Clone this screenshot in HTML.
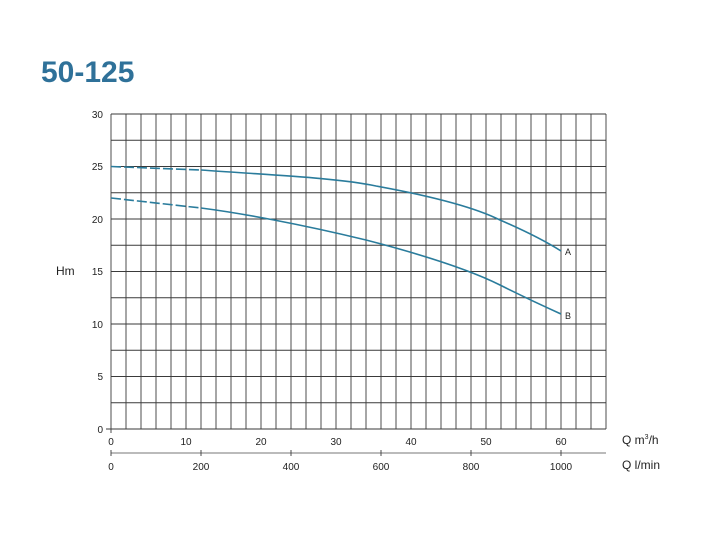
<!DOCTYPE html>
<html><head><meta charset="utf-8"><style>
body{margin:0;background:#fff;width:704px;height:528px;overflow:hidden;font-family:"Liberation Sans",sans-serif}
</style></head><body>
<svg width="704" height="528" xmlns="http://www.w3.org/2000/svg" font-family="Liberation Sans, sans-serif">
<text x="41" y="82" font-size="30" font-weight="bold" fill="#2f7199">50-125</text>
<g stroke="#333" stroke-width="1">
<path id="v" d=""/>
</g>
<g id="grid" stroke="#3a3a3a" stroke-width="0.9" fill="none">
<script>
</script>
</g>
<g stroke="#3a3a3a" stroke-width="0.9">
<line x1="111" y1="114" x2="606" y2="114"/><line x1="111" y1="140.25" x2="606" y2="140.25"/><line x1="111" y1="166.5" x2="606" y2="166.5"/><line x1="111" y1="192.75" x2="606" y2="192.75"/><line x1="111" y1="219" x2="606" y2="219"/><line x1="111" y1="245.25" x2="606" y2="245.25"/><line x1="111" y1="271.5" x2="606" y2="271.5"/><line x1="111" y1="297.75" x2="606" y2="297.75"/><line x1="111" y1="324" x2="606" y2="324"/><line x1="111" y1="350.25" x2="606" y2="350.25"/><line x1="111" y1="376.5" x2="606" y2="376.5"/><line x1="111" y1="402.75" x2="606" y2="402.75"/><line x1="106" y1="429" x2="606" y2="429"/>
<line x1="111" y1="114" x2="111" y2="433"/><line x1="126" y1="114" x2="126" y2="429"/><line x1="141" y1="114" x2="141" y2="429"/><line x1="156" y1="114" x2="156" y2="429"/><line x1="171" y1="114" x2="171" y2="429"/><line x1="186" y1="114" x2="186" y2="429"/><line x1="201" y1="114" x2="201" y2="429"/><line x1="216" y1="114" x2="216" y2="429"/><line x1="231" y1="114" x2="231" y2="429"/><line x1="246" y1="114" x2="246" y2="429"/><line x1="261" y1="114" x2="261" y2="429"/><line x1="276" y1="114" x2="276" y2="429"/><line x1="291" y1="114" x2="291" y2="429"/><line x1="306" y1="114" x2="306" y2="429"/><line x1="321" y1="114" x2="321" y2="429"/><line x1="336" y1="114" x2="336" y2="429"/><line x1="351" y1="114" x2="351" y2="429"/><line x1="366" y1="114" x2="366" y2="429"/><line x1="381" y1="114" x2="381" y2="429"/><line x1="396" y1="114" x2="396" y2="429"/><line x1="411" y1="114" x2="411" y2="429"/><line x1="426" y1="114" x2="426" y2="429"/><line x1="441" y1="114" x2="441" y2="429"/><line x1="456" y1="114" x2="456" y2="429"/><line x1="471" y1="114" x2="471" y2="429"/><line x1="486" y1="114" x2="486" y2="429"/><line x1="501" y1="114" x2="501" y2="429"/><line x1="516" y1="114" x2="516" y2="429"/><line x1="531" y1="114" x2="531" y2="429"/><line x1="546" y1="114" x2="546" y2="429"/><line x1="561" y1="114" x2="561" y2="429"/><line x1="576" y1="114" x2="576" y2="429"/><line x1="591" y1="114" x2="591" y2="429"/><line x1="606" y1="114" x2="606" y2="429"/>
<line x1="111" y1="453" x2="606" y2="453" stroke="#777"/>
<line x1="111" y1="450" x2="111" y2="456"/><line x1="201" y1="450" x2="201" y2="456"/><line x1="291" y1="450" x2="291" y2="456"/><line x1="381" y1="450" x2="381" y2="456"/><line x1="471" y1="450" x2="471" y2="456"/><line x1="561" y1="450" x2="561" y2="456"/>
</g>
<g font-size="10" fill="#222" text-anchor="end">
<text x="103" y="118">30</text><text x="103" y="170">25</text><text x="103" y="223">20</text><text x="103" y="275">15</text><text x="103" y="328">10</text><text x="103" y="380">5</text><text x="103" y="433">0</text>
</g>
<g font-size="10" fill="#222" text-anchor="middle">
<text x="111" y="445">0</text><text x="186" y="445">10</text><text x="261" y="445">20</text><text x="336" y="445">30</text><text x="411" y="445">40</text><text x="486" y="445">50</text><text x="561" y="445">60</text>
<text x="111" y="470">0</text><text x="201" y="470">200</text><text x="291" y="470">400</text><text x="381" y="470">600</text><text x="471" y="470">800</text><text x="561" y="470">1000</text>
</g>
<text x="56" y="275" font-size="12" fill="#222">Hm</text>
<text x="622" y="444" font-size="12" fill="#222">Q m<tspan font-size="7" dy="-5">3</tspan><tspan dy="5">/h</tspan></text>
<text x="622" y="469" font-size="12" fill="#222">Q l/min</text>
<g fill="none" stroke="#2a7c9c" stroke-width="1.6">
<path d="M111,166.5 L201,170" stroke-dasharray="10,3"/>
<path d="M201,170 C270,175 340,178 376,186 C420,194 470,205 500,220 C530,233 550,244 561,251"/>
<path d="M111,198 L201,208" stroke-dasharray="10,3"/>
<path d="M201,208 C240,213 300,224 366,240 C420,254 470,270 500,285 C530,300 550,309 561,314"/>
</g>
<text x="565" y="255" font-size="9" fill="#222">A</text>
<text x="565" y="319" font-size="9" fill="#222">B</text>
</svg>
</body></html>
